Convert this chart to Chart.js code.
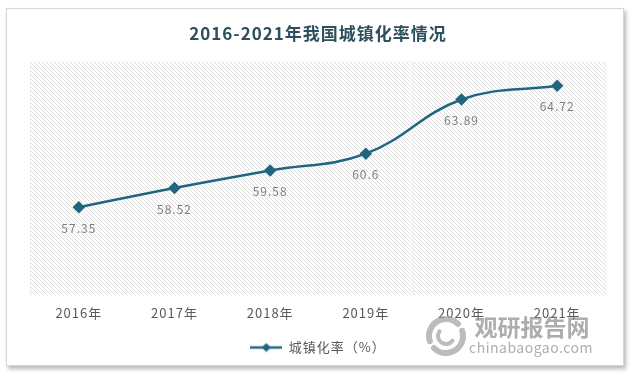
<!DOCTYPE html>
<html>
<head>
<meta charset="utf-8">
<script src="https://cdn.jsdelivr.net/npm/chart.js@4/dist/chart.umd.min.js"></script>
<style>
  html, body { margin: 0; padding: 0; background: #fff; }
  #wrap { position: relative; width: 632px; height: 375px; }
  #frame {
    position: absolute; left: 6px; top: 8px; width: 616px; height: 356px;
    border: 1px solid #d6d6d6; box-shadow: 2px 3px 4px rgba(0,0,0,0.28);
    pointer-events: none;
  }
  canvas { position: absolute; left: 0; top: 0; }
</style>
</head>
<body>
<div id="wrap">
  <div id="frame"></div>
  <canvas id="urbanChart" width="632" height="375"></canvas>
</div>
<script>
// chart data
const years = ['2016年', '2017年', '2018年', '2019年', '2020年', '2021年'];
const urbanRate = [57.35, 58.52, 59.58, 60.6, 63.89, 64.72];
const seriesName = '城镇化率（%）';
const chartTitle = '2016-2021年我国城镇化率情况';
const yRange = [52, 66.2];

const FONT = '"Noto Sans CJK SC", "Noto Sans", sans-serif';
const lineColor = '#21667f';

// diagonal hatch used as plot background
function makeHatch() {
    const c = document.createElement('canvas');
    c.width = 4; c.height = 4;
    const g = c.getContext('2d');
    g.fillStyle = '#ffffff';
    g.fillRect(0, 0, 4, 4);
    g.strokeStyle = '#dedede';
    g.lineWidth = 1;
    g.beginPath();
    g.moveTo(-1, -1); g.lineTo(5, 5);
    g.moveTo(-1, 3); g.lineTo(1, 5);
    g.moveTo(3, -1); g.lineTo(5, 1);
    g.stroke();
    return c;
}

// legend marker: line with a diamond in the middle
function makeLegendMark() {
    const c = document.createElement('canvas');
    c.width = 32; c.height = 10;
    const g = c.getContext('2d');
    g.strokeStyle = lineColor;
    g.lineWidth = 2.5;
    g.beginPath(); g.moveTo(0, 5); g.lineTo(32, 5); g.stroke();
    g.fillStyle = lineColor;
    g.beginPath();
    g.moveTo(16, 0.5); g.lineTo(20.5, 5); g.lineTo(16, 9.5); g.lineTo(11.5, 5);
    g.closePath(); g.fill();
    return c;
}

const hatchTile = makeHatch();
const legendMark = makeLegendMark();

const spacingPlugin = {
    id: 'spacing',
    beforeUpdate(chart) { chart.ctx.letterSpacing = '1px'; },
    beforeDraw(chart) { chart.ctx.letterSpacing = '1px'; }
};

const hatchPlugin = {
    id: 'hatch',
    beforeDraw(chart) {
        const { ctx, chartArea: a } = chart;
        ctx.save();
        ctx.fillStyle = ctx.createPattern(hatchTile, 'repeat');
        ctx.fillRect(a.left, a.top, a.right - a.left, a.bottom - a.top);
        ctx.restore();
    }
};

const valueLabels = {
    id: 'valueLabels',
    afterDatasetsDraw(chart) {
        const { ctx } = chart;
        const meta = chart.getDatasetMeta(0);
        ctx.save();
        ctx.font = '12px ' + FONT;
        ctx.fillStyle = '#7f7f7f';
        ctx.textAlign = 'center';
        ctx.textBaseline = 'middle';
        meta.data.forEach((pt, i) => {
            ctx.fillText(String(urbanRate[i]), pt.x, pt.y + 21);
        });
        ctx.restore();
    }
};

const watermark = {
    id: 'watermark',
    afterDraw(chart) {
        const { ctx } = chart;
        ctx.save();
        ctx.globalAlpha = 0.7;
        ctx.fillStyle = '#8a8a8a';
        ctx.textAlign = 'center';
        ctx.textBaseline = 'middle';
        ctx.font = 'bold 23px ' + FONT;
        ctx.letterSpacing = '0px';
        ctx.fillText('观研报告网', 532, 327);
        ctx.font = '14px ' + FONT;
        ctx.letterSpacing = '0.5px';
        ctx.fillText('chinabaogao.com', 531, 348);
        // swirl logo
        ctx.strokeStyle = '#a0a0a0';
        ctx.lineCap = 'round';
        ctx.lineWidth = 6;
        ctx.beginPath(); ctx.arc(446, 336, 17, Math.PI * 0.9, Math.PI * 1.75); ctx.stroke();
        ctx.beginPath(); ctx.arc(446, 336, 17, Math.PI * 1.9, Math.PI * 2.75); ctx.stroke();
        ctx.lineWidth = 4;
        ctx.beginPath(); ctx.arc(446, 336, 8, Math.PI * 0.2, Math.PI * 1.2); ctx.stroke();
        ctx.restore();
    }
};

const ctx = document.getElementById('urbanChart').getContext('2d');
const urbanChart = new Chart(ctx, {
    type: 'line',
    data: {
        labels: years,
        datasets: [{
            label: seriesName,
            data: urbanRate,
            borderColor: lineColor,
            backgroundColor: lineColor,
            borderWidth: 2.5,
            tension: 0.4,
            pointStyle: 'rectRot',
            pointRadius: 4.5,
            pointHoverRadius: 4.5,
            pointBackgroundColor: lineColor,
            pointBorderColor: lineColor,
            fill: false
        }]
    },
    options: {
        responsive: false,
        animation: false,
        events: [],
        layout: { padding: { top: 23, left: 31, right: 27, bottom: 11 } },
        plugins: {
            title: {
                display: true,
                text: chartTitle,
                color: '#2d4f5e',
                font: { family: FONT, size: 17, weight: 'bold' },
                padding: { top: 0, bottom: 18 }
            },
            legend: {
                position: 'bottom',
                labels: {
                    color: '#595959',
                    font: { family: FONT, size: 13 },
                    usePointStyle: true,
                    pointStyleWidth: 32,
                    padding: 10,
                    generateLabels(chart) {
                        return [{
                            text: seriesName,
                            pointStyle: legendMark,
                            fillStyle: lineColor,
                            strokeStyle: lineColor,
                            lineWidth: 0,
                            datasetIndex: 0,
                            fontColor: '#595959'
                        }];
                    }
                }
            },
            tooltip: { enabled: false }
        },
        scales: {
            x: {
                offset: true,
                grid: {
                    offset: true,
                    drawTicks: false,
                    color: '#ececec',
                    lineWidth: 1
                },
                border: { display: false },
                ticks: {
                    color: '#595959',
                    font: { family: FONT, size: 13 },
                    padding: 10
                }
            },
            y: {
                display: false,
                min: yRange[0],
                max: yRange[1]
            }
        }
    },
    plugins: [spacingPlugin, hatchPlugin, valueLabels, watermark]
});
</script>
</body>
</html>
